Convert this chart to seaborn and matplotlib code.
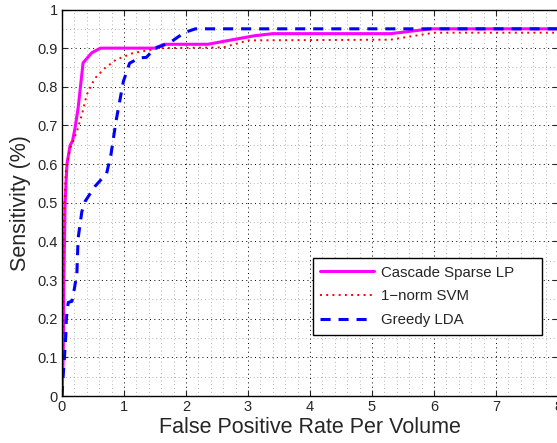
import numpy as np
import pandas as pd
import matplotlib
matplotlib.use("Agg")
import matplotlib.pyplot as plt
import seaborn as sns
from matplotlib.ticker import MultipleLocator, FixedLocator

# ---- data ----
cascade_x = [0, 0.02, 0.03, 0.05, 0.08, 0.13, 0.17, 0.21, 0.26, 0.34, 0.48, 0.62, 1.5, 1.65, 2.35, 3.1, 3.4, 5.3, 5.95, 8]
cascade_y = [0, 0.1, 0.3, 0.5, 0.6, 0.648, 0.66, 0.693, 0.745, 0.862, 0.888, 0.9, 0.9, 0.91, 0.91, 0.932, 0.9375, 0.9375, 0.95, 0.95]

svm_x = [0, 0.02, 0.03, 0.06, 0.13, 0.24, 0.32, 0.4, 0.53, 0.69, 0.87, 1.14, 1.44, 1.6, 2.6, 3.0, 5.3, 6.0, 8]
svm_y = [0, 0.2, 0.45, 0.58, 0.64, 0.684, 0.728, 0.78, 0.822, 0.848, 0.87, 0.887, 0.896, 0.9, 0.902, 0.92, 0.922, 0.94, 0.94]

lda_x = [0, 0.02, 0.04, 0.06, 0.07, 0.1, 0.16, 0.2, 0.24, 0.26, 0.32, 0.37, 0.53, 0.72, 0.79, 0.87, 0.99, 1.09, 1.25, 1.36, 1.5, 1.73, 1.97, 2.15, 8]
lda_y = [0, 0.055, 0.1, 0.153, 0.2, 0.242, 0.245, 0.278, 0.317, 0.408, 0.477, 0.503, 0.542, 0.576, 0.625, 0.71, 0.814, 0.861, 0.875, 0.876, 0.9, 0.913, 0.94, 0.95, 0.95]

series_names = ["Cascade Sparse LP", "1\u2212norm SVM", "Greedy LDA"]
x_ticks = [0, 1, 2, 3, 4, 5, 6, 7, 8]
y_ticks = [0, 0.1, 0.2, 0.3, 0.4, 0.5, 0.6, 0.7, 0.8, 0.9, 1]
y_tick_labels = ["0", "0.1", "0.2", "0.3", "0.4", "0.5", "0.6", "0.7", "0.8", "0.9", "1"]

sns.set_style("white")
plt.rcParams["font.family"] = ["Liberation Sans", "DejaVu Sans"]

fig = plt.figure(figsize=(5.57, 4.43), dpi=100)
ax = fig.add_axes([62 / 557, 1 - 396 / 443, 496 / 557, (396 - 9.5) / 443])

sns.lineplot(x=cascade_x, y=cascade_y, ax=ax, color="#FF00FF", lw=2.2, sort=False,
             estimator=None, label=series_names[0])
sns.lineplot(x=svm_x, y=svm_y, ax=ax, color="#FF0000", lw=1.4, sort=False,
             estimator=None, label=series_names[1], linestyle=(0, (1, 2.2)))
sns.lineplot(x=lda_x, y=lda_y, ax=ax, color="#0000FF", lw=2.2, sort=False,
             estimator=None, label=series_names[2], linestyle=(0, (3.3, 2.6)))

ax.set_xlim(0, 8)
ax.set_ylim(0, 1)
ax.xaxis.set_major_locator(FixedLocator(x_ticks))
ax.set_yticks(y_ticks)
ax.set_yticklabels(y_tick_labels)
ax.xaxis.set_minor_locator(MultipleLocator(0.2))
ax.yaxis.set_minor_locator(MultipleLocator(0.05))

ax.grid(which="major", color="black", linestyle=(0, (1, 3.5)), linewidth=0.7)
ax.grid(which="minor", color="#999999", linestyle=(0, (1, 3.5)), linewidth=0.6)
ax.set_axisbelow(True)

ax.tick_params(which="major", direction="in", length=4, width=0.8, labelsize=10.5,
               top=True, right=True, bottom=True, left=True, pad=3)
ax.tick_params(which="minor", length=0)
for s in ax.spines.values():
    s.set_color("black")
    s.set_linewidth(1.0)

ax.set_xlabel("False Positive Rate Per Volume", fontsize=15.5, labelpad=2)
ax.set_ylabel("Sensitivity (%)", fontsize=15.5, labelpad=5)

leg = ax.legend(loc="upper left", bbox_to_anchor=(0.506, 0.157, 0.462, 0.2), mode="expand",
                borderaxespad=0,
                fontsize=10.8, handlelength=3.6, handletextpad=0.45, labelspacing=0.65,
                frameon=True, fancybox=False, framealpha=1, edgecolor="black",
                borderpad=0.5)
leg.get_frame().set_linewidth(1.0)

fig.savefig("out.png", dpi=100)
